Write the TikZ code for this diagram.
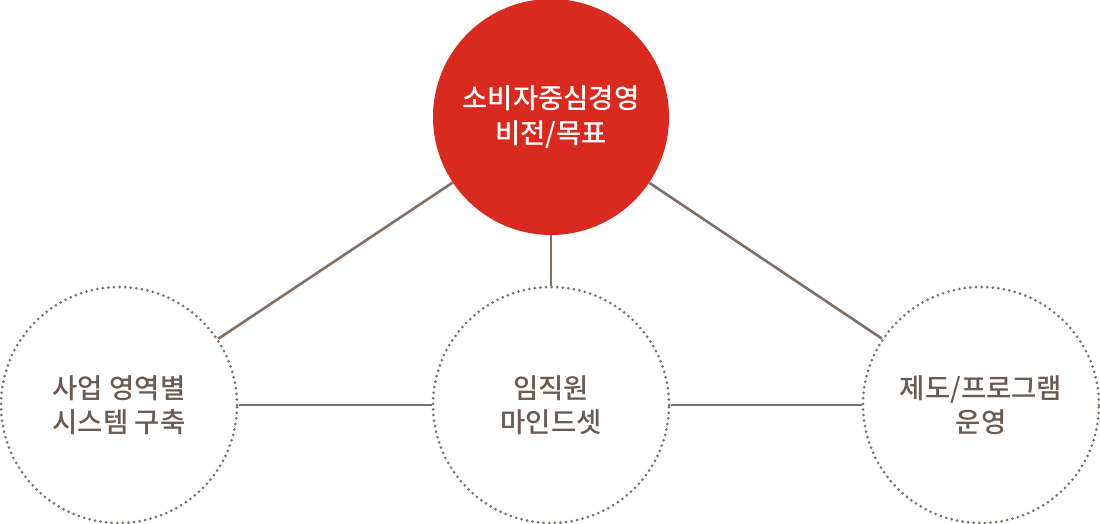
\documentclass[tikz,border=0pt]{standalone}
\usepackage{fontspec}
\newfontfamily\kr{Noto Sans CJK KR Medium}
\definecolor{redc}{HTML}{D92A1F}
\definecolor{linec}{HTML}{7F6F64}
\definecolor{textc}{HTML}{6B5A4F}
\begin{document}
\begin{tikzpicture}[x=1pt,y=-1pt,
  subc/.style={circle, minimum size=236pt, inner sep=0pt, draw=linec, line width=3pt,
    dash pattern=on 0pt off 5.6pt, line cap=round, text=textc, align=center,
    font=\kr\fontsize{27.5}{34}\selectfont},
  mainc/.style={circle, minimum size=236pt, inner sep=0pt, fill=redc, text=white, align=center,
    font=\kr\fontsize{27.5}{35}\selectfont},
  link/.style={draw=linec, line width=2.6pt}]
\useasboundingbox (0,0) rectangle (1100,524);
\node[mainc] (v) at (551,117) {소비자중심경영\\비전/목표};
\node[subc] (l) at (119,405) {사업 영역별\\시스템 구축};
\node[subc] (m) at (551,405) {임직원\\마인드셋};
\node[subc] (r) at (981,405) {제도/프로그램\\운영};
\draw[link] (v) -- (l);
\draw[link] (v) -- (m);
\draw[link] (v) -- (r);
\draw[link] (l) -- (m);
\draw[link] (m) -- (r);
\end{tikzpicture}
\end{document}
